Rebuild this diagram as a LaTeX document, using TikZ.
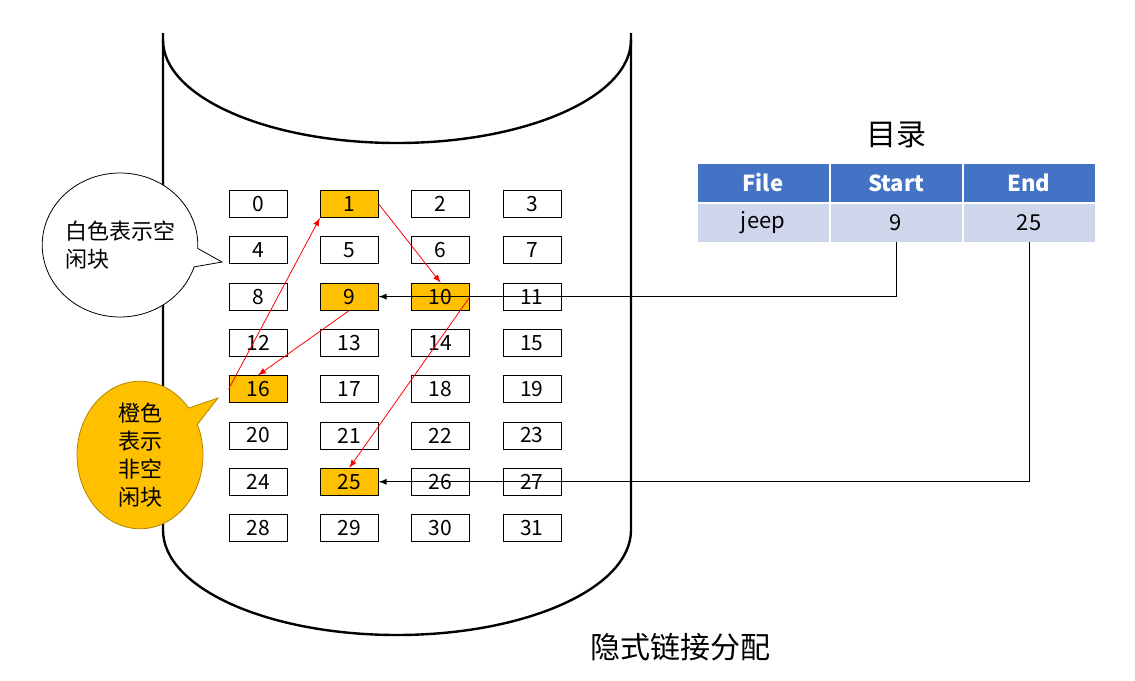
\documentclass[tikz,border=0pt]{standalone}
\usepackage{fontspec}
\setmainfont{Noto Sans CJK SC}
\usetikzlibrary{shapes.callouts}
\definecolor{used}{HTML}{FFC000}
\definecolor{head}{HTML}{4472C4}
\definecolor{rowc}{HTML}{CFD5EA}
\tikzset{
  >=latex,
  cell/.style={draw,minimum width=29pt,minimum height=13.5pt,inner sep=0pt,font=\fontsize{10.5}{12}\selectfont},
  tcell/.style={minimum width=65.5pt,minimum height=19pt,inner sep=0pt,font=\fontsize{11}{13}\selectfont},
  link/.style={->,red,thin},
  ptr/.style={->,black,thin}
}
\begin{document}
\begin{tikzpicture}[x=0.5pt,y=-0.5pt]
  \useasboundingbox (0,0) rectangle (1135,680);
  % cylinder
  \draw[line width=1.2pt] (163,33) -- (163,530)
    arc[start angle=180,end angle=360,x radius=117pt,y radius=52.5pt] -- (631,33);
  \draw[line width=1.2pt] (163,40)
    arc[start angle=180,end angle=360,x radius=117pt,y radius=51.5pt];
  % blocks
  \foreach \n in {0,...,31}{
    \pgfmathtruncatemacro\c{mod(\n,4)}
    \pgfmathtruncatemacro\r{div(\n,4)}
    \node[cell] (b\n) at ({258+91.3*\c},{204+46.3*\r}) {\n};
  }
  \foreach \n in {1,9,10,16,25}
    \node[cell,fill=used] at (b\n) {\n};
  % chain
  \draw[link] (b16.west) -- (b1.south west);
  \draw[link] (b1.east) -- (b10.north);
  \draw[link] (b9.south) -- (b16.north);
  \draw[link] (b10.east) -- (b25.north);
  % directory
  \node[font=\fontsize{15}{18}\selectfont] (dir) at (896,135) {目录};
  \node[tcell,fill=head,text=white,font=\bfseries\fontsize{11}{13}\selectfont] (hf) at (763,183) {File};
  \node[tcell,fill=head,text=white,font=\bfseries\fontsize{11}{13}\selectfont] (hs) at (896,183) {Start};
  \node[tcell,fill=head,text=white,font=\bfseries\fontsize{11}{13}\selectfont] (he) at (1029,183) {End};
  \node[tcell,fill=rowc] (vf) at (763,223) {jeep};
  \node[tcell,fill=rowc] (vs) at (896,223) {9};
  \node[tcell,fill=rowc] (ve) at (1029,223) {25};
  \draw[ptr] (vs.south) |- (b9.east);
  \draw[ptr] (ve.south) |- (b25.east);
  % callouts
  \node[ellipse callout,draw,fill=white,minimum width=75pt,minimum height=72pt,
    callout absolute pointer={(222,262)},align=left,inner sep=0pt,
    font=\fontsize{11}{14}\selectfont] (free) at (120,245) {白色表示空\\闲块};
  \node[ellipse callout,draw=used!70!black,fill=used,minimum width=63pt,minimum height=72pt,
    callout absolute pointer={(218,398)},align=left,inner sep=0pt,
    font=\fontsize{11}{14}\selectfont] (busy) at (140,455) {橙色\\表示\\非空\\闲块};
  \node[font=\fontsize{15}{18}\selectfont] (title) at (680,647) {隐式链接分配};
\end{tikzpicture}
\end{document}
